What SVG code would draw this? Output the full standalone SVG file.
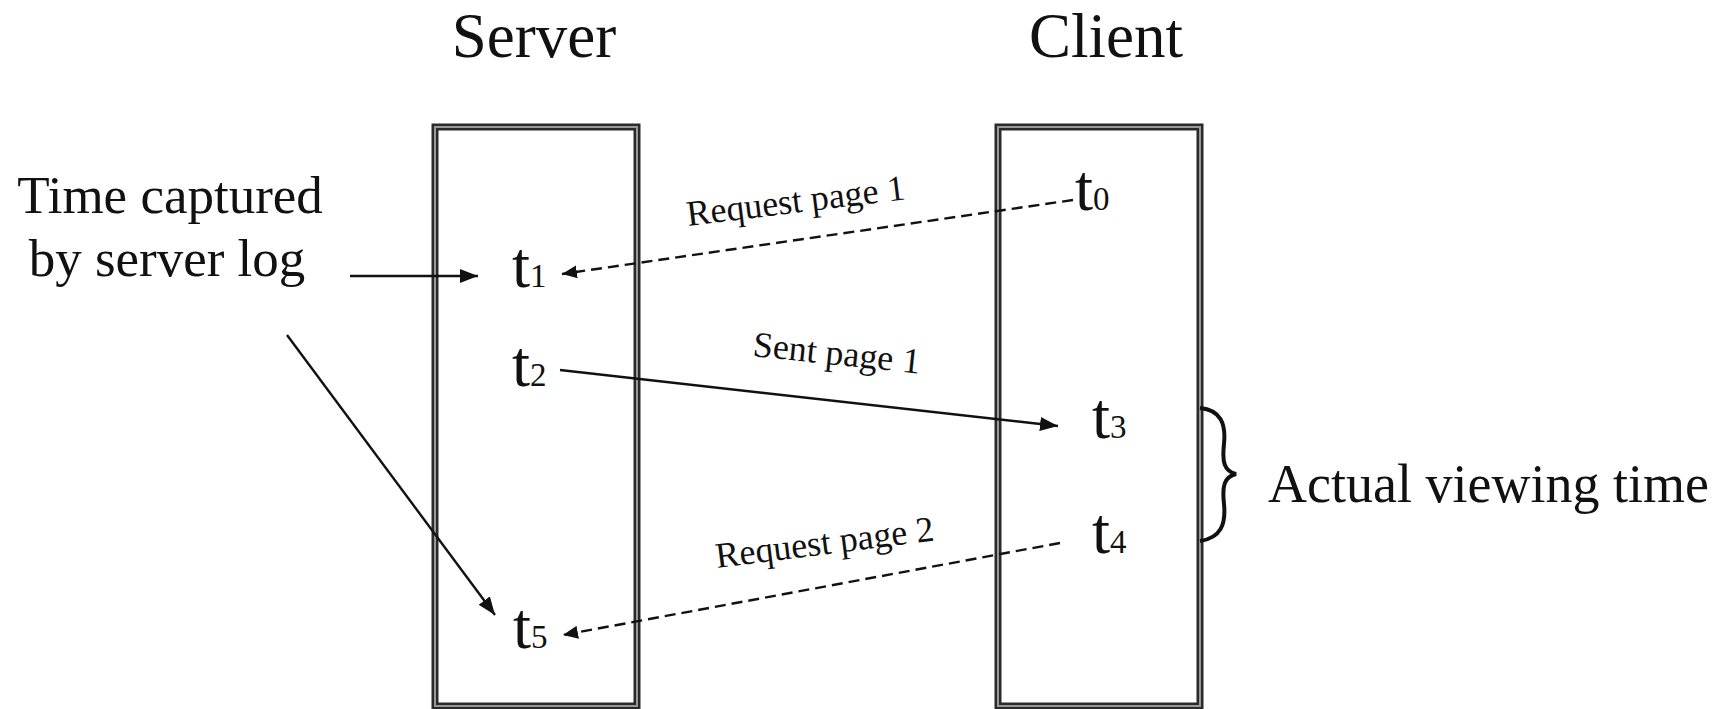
<svg xmlns="http://www.w3.org/2000/svg" width="1721" height="709" viewBox="0 0 1721 709">
<style>
text{font-family:"Liberation Serif","Times New Roman",serif;fill:#111}
.title{font-size:63px;text-anchor:middle}
.note{font-size:53px}
.t{font-size:65px}
.sub{font-size:33px}
.lbl{font-size:36px}
.boxo{fill:none;stroke:#2a2a2a;stroke-width:7}
.boxi{fill:none;stroke:#999;stroke-width:2}
.solid{fill:none;stroke:#111;stroke-width:2.4}
.dash{fill:none;stroke:#111;stroke-width:2.4;stroke-dasharray:11 6}
</style>
<defs>
<marker id="ah" markerUnits="userSpaceOnUse" markerWidth="19" markerHeight="14" refX="18" refY="7" orient="auto">
<path d="M0,0 L18,7 L0,14 z" fill="#111"/>
</marker>
<marker id="ahs" markerUnits="userSpaceOnUse" markerWidth="16" markerHeight="13" refX="15" refY="6.5" orient="auto">
<path d="M0,0 L15,6.5 L0,13 z" fill="#111"/>
</marker>
</defs>
<rect width="1721" height="709" fill="#fff"/>
<g id="server">
<rect class="boxo" x="435" y="127" width="202" height="579"/>
<rect class="boxi" x="435" y="127" width="202" height="579"/>
<text class="title" x="534" y="57">Server</text>
</g>
<g id="client">
<rect class="boxo" x="998" y="127" width="202" height="579"/>
<rect class="boxi" x="998" y="127" width="202" height="579"/>
<text class="title" x="1106" y="57">Client</text>
</g>
<g id="t0"><text class="t" x="1075" y="210">t<tspan class="sub">0</tspan></text></g>
<g id="t1"><text class="t" x="512" y="287">t<tspan class="sub">1</tspan></text></g>
<g id="t2"><text class="t" x="512" y="386">t<tspan class="sub">2</tspan></text></g>
<g id="t3"><text class="t" x="1092" y="438">t<tspan class="sub">3</tspan></text></g>
<g id="t4"><text class="t" x="1092" y="553">t<tspan class="sub">4</tspan></text></g>
<g id="t5"><text class="t" x="513" y="648">t<tspan class="sub">5</tspan></text></g>
<g id="server-log-note">
<text class="note" x="170" y="213" text-anchor="middle">Time captured</text>
<text class="note" x="167" y="276" text-anchor="middle">by server log</text>
</g>
<g id="viewing-time">
<path d="M1200,408 C1221,410 1226,424 1224,444 C1222,462 1224,471 1236,474 C1224,477 1222,486 1224,504 C1226,524 1221,538 1200,541" fill="none" stroke="#111" stroke-width="4"/>
<text class="note" x="1268" y="502" style="font-size:54px">Actual viewing time</text>
</g>
<g id="connectors">
<line class="dash" x1="1073" y1="200" x2="562" y2="274" marker-end="url(#ahs)"/>
<line class="solid" x1="560" y1="370" x2="1058" y2="426" marker-end="url(#ah)"/>
<line class="dash" x1="1060" y1="543" x2="563" y2="635" marker-end="url(#ahs)"/>
<line class="solid" x1="350" y1="276" x2="478" y2="276" marker-end="url(#ah)"/>
<line class="solid" x1="287" y1="335" x2="495" y2="615" marker-end="url(#ah)"/>
<text class="lbl" x="688" y="226" transform="rotate(-7 688 226)">Request page 1</text>
<text class="lbl" x="752" y="356" transform="rotate(6 752 356)">Sent page 1</text>
<text class="lbl" x="717" y="568" transform="rotate(-7.2 717 568)">Request page 2</text>
</g>
</svg>
